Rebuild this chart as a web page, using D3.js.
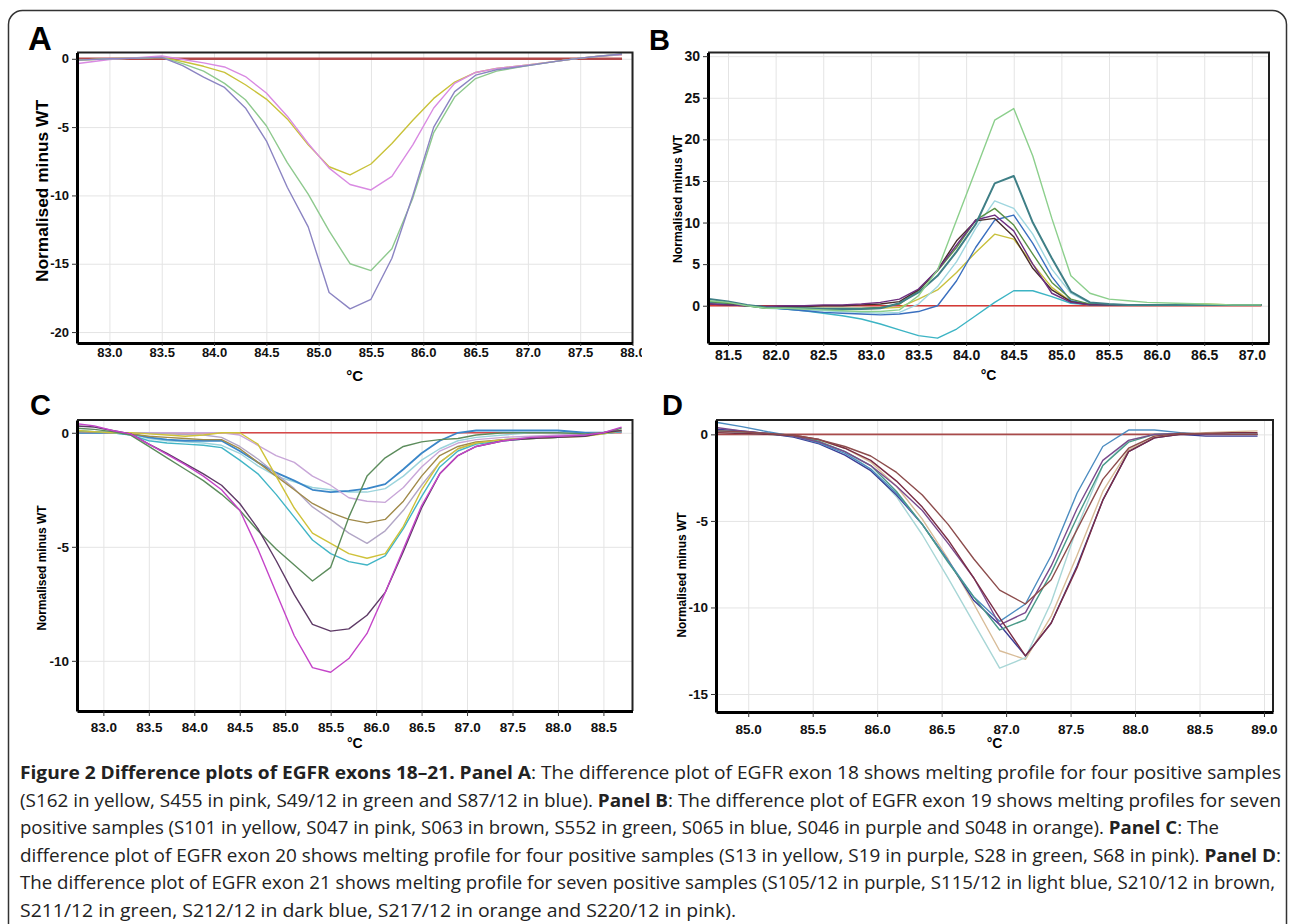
<!DOCTYPE html>
<html>
<head>
<meta charset="utf-8">
<script src="https://cdn.jsdelivr.net/npm/d3@7"></script>
<style>
  body { margin: 0; background: #fff; }
  svg { display: block; }
  .tick text { font-family: "Liberation Sans", Arial, sans-serif; font-weight: bold; fill: #111; }
  .cap { font-family: "Open Sans", "Noto Sans", sans-serif; fill: #222; }
</style>
</head>
<body>
<svg id="fig" width="1290" height="924"></svg>
<script>
// ---- panel A: exon 18 ----
var tempA = [82.7, 83.0, 83.3, 83.5, 83.7, 83.9, 84.1, 84.3, 84.5, 84.7, 84.9, 85.1, 85.3, 85.5, 85.7, 85.9, 86.1, 86.3, 86.5, 86.7, 87.0, 87.3, 87.5, 87.7, 87.9]
var aYellow = [-0.1, 0, 0.05, 0.1, -0.2, -0.55, -1.0, -1.9, -2.95, -4.4, -6.3, -7.9, -8.5, -7.7, -6.2, -4.5, -2.9, -1.7, -1.0, -0.7, -0.45, -0.15, 0.05, 0.2, 0.3]
var aPink = [-0.35, -0.05, 0.1, 0.2, -0.05, -0.3, -0.6, -1.3, -2.5, -4.2, -6.2, -8.0, -9.2, -9.6, -8.6, -6.3, -3.6, -1.8, -1.0, -0.7, -0.45, -0.15, 0.05, 0.2, 0.3]
var aGreen = [-0.1, 0, 0.05, 0.1, -0.35, -0.9, -1.8, -3.0, -4.9, -7.6, -9.9, -12.6, -15.0, -15.5, -13.9, -10.2, -5.4, -2.8, -1.45, -0.9, -0.5, -0.15, 0.05, 0.2, 0.35]
var aBlue = [-0.1, 0, 0.05, 0.1, -0.5, -1.35, -2.1, -3.6, -6.0, -9.4, -12.3, -17.1, -18.3, -17.6, -14.6, -10.0, -5.0, -2.4, -1.2, -0.8, -0.5, -0.15, 0.05, 0.2, 0.35]
var xTicksA = [83.0, 83.5, 84.0, 84.5, 85.0, 85.5, 86.0, 86.5, 87.0, 87.5, 88.0]
var yTicksA = [0, -5, -10, -15, -20]

// ---- panel B: exon 19 ----
var tempB = [81.3, 81.5, 81.7, 81.9, 82.1, 82.3, 82.5, 82.7, 82.9, 83.1, 83.3, 83.5, 83.7, 83.9, 84.1, 84.3, 84.5, 84.7, 84.9, 85.1, 85.3, 85.5, 85.7, 85.9, 86.2, 86.5, 86.8, 87.1]
var bLightGreen = [0.6, 0.4, 0.0, -0.3, -0.3, -0.4, -0.5, -0.6, -0.7, -0.7, -0.5, 1.2, 4.3, 10.3, 16.3, 22.3, 23.7, 18.0, 10.5, 3.6, 1.5, 0.8, 0.6, 0.4, 0.3, 0.2, 0.1, 0.1]
var bTeal = [0.8, 0.5, 0.1, -0.2, -0.3, -0.3, -0.4, -0.4, -0.4, -0.3, 0.3, 1.6, 3.6, 6.5, 9.8, 14.7, 15.6, 10.0, 5.7, 1.7, 0.4, 0.2, 0.1, 0.1, 0.1, 0.1, 0.1, 0.1]
var bLightCyan = [0.3, 0.2, 0.0, -0.3, -0.4, -0.5, -0.6, -0.7, -0.8, -0.9, -0.8, 0.2, 2.3, 5.3, 9.3, 12.6, 11.7, 8.6, 4.4, 1.5, 0.3, 0.1, 0.1, 0.1, 0.1, 0.1, 0.1, 0.1]
var bGreen = [0.5, 0.3, 0.0, -0.3, -0.3, -0.3, -0.3, -0.3, -0.3, -0.2, 0.2, 1.8, 4.2, 7.0, 10.3, 11.7, 9.7, 6.2, 2.8, 0.8, 0.2, 0.1, 0.1, 0.1, 0.1, 0.1, 0.1, 0.1]
var bPurple = [0.2, 0.1, 0.0, -0.1, 0.0, 0.0, 0.1, 0.1, 0.2, 0.4, 0.8, 2.0, 4.3, 7.3, 10.3, 10.9, 9.0, 5.0, 1.5, 0.4, 0.1, 0.1, 0.1, 0.1, 0.1, 0.1, 0.1, 0.1]
var bBrown = [0.2, 0.1, 0.0, -0.1, -0.1, -0.1, 0.0, 0.0, 0.1, 0.2, 0.5, 1.9, 4.3, 7.8, 10.2, 10.5, 8.3, 4.5, 1.9, 0.5, 0.1, 0.1, 0.1, 0.1, 0.1, 0.1, 0.1, 0.1]
var bBlue = [0.4, 0.3, 0.0, -0.2, -0.4, -0.6, -0.8, -0.9, -1.0, -1.1, -1.0, -0.7, 0.0, 3.0, 7.0, 10.3, 10.9, 7.5, 3.5, 0.6, 0.2, 0.1, 0.1, 0.1, 0.1, 0.1, 0.1, 0.1]
var bYellow = [0.3, 0.2, 0.0, -0.2, -0.3, -0.3, -0.4, -0.4, -0.4, -0.3, -0.2, 0.8, 1.9, 4.0, 6.4, 8.6, 8.0, 5.0, 2.2, 0.5, 0.1, 0.1, 0.1, 0.1, 0.1, 0.2, 0.1, 0.1]
var bCyan = [0.5, 0.3, 0.0, -0.2, -0.4, -0.6, -0.9, -1.2, -1.6, -2.2, -2.9, -3.6, -3.9, -2.8, -1.2, 0.4, 1.8, 1.8, 1.1, 0.3, 0.1, 0.1, 0.1, 0.1, 0.1, 0.1, 0.1, 0.1]
var xTicksB = [81.5, 82.0, 82.5, 83.0, 83.5, 84.0, 84.5, 85.0, 85.5, 86.0, 86.5, 87.0]
var yTicksB = [0, 5, 10, 15, 20, 25, 30]

// ---- panel C: exon 20 ----
var tempC = [82.7, 82.9, 83.1, 83.3, 83.5, 83.7, 83.9, 84.1, 84.3, 84.5, 84.7, 84.9, 85.1, 85.3, 85.5, 85.7, 85.9, 86.1, 86.3, 86.5, 86.7, 86.9, 87.1, 87.4, 87.7, 88.0, 88.3, 88.5, 88.7]
var cMagenta = [0.4, 0.3, 0.1, -0.05, -0.5, -0.95, -1.4, -1.9, -2.5, -3.4, -5.1, -7.0, -8.9, -10.3, -10.5, -9.9, -8.8, -7.0, -5.1, -3.2, -1.8, -1.0, -0.6, -0.35, -0.2, -0.15, -0.1, 0.0, 0.25]
var cPurple = [0.3, 0.25, 0.1, -0.05, -0.5, -0.9, -1.35, -1.8, -2.3, -3.1, -4.2, -5.6, -7.1, -8.4, -8.7, -8.6, -8.0, -7.0, -5.2, -3.3, -1.8, -1.0, -0.6, -0.35, -0.25, -0.2, -0.15, 0.0, 0.1]
var cGreen = [0.2, 0.15, 0.05, -0.1, -0.6, -1.1, -1.6, -2.1, -2.7, -3.4, -4.3, -5.1, -5.8, -6.5, -5.9, -3.7, -1.9, -1.1, -0.6, -0.4, -0.3, -0.25, -0.1, 0.0, 0.0, 0.0, -0.05, 0.0, 0.2]
var cYellow = [0.1, 0.05, 0.0, 0.0, -0.05, -0.1, -0.15, -0.1, 0.0, 0.0, -0.5, -1.9, -3.3, -4.4, -4.85, -5.3, -5.5, -5.3, -4.1, -2.5, -1.3, -0.7, -0.45, -0.3, -0.25, -0.2, -0.15, -0.05, 0.1]
var cCyan = [0.1, 0.05, 0.0, -0.1, -0.35, -0.45, -0.5, -0.55, -0.65, -1.2, -1.8, -2.7, -3.7, -4.7, -5.3, -5.65, -5.8, -5.4, -4.2, -2.8, -1.5, -0.8, -0.5, -0.35, -0.25, -0.2, -0.1, -0.05, 0.05]
var cTan = [0.05, 0.03, 0.0, -0.05, -0.15, -0.2, -0.25, -0.3, -0.3, -0.7, -1.3, -1.9, -2.5, -3.1, -3.5, -3.8, -3.95, -3.8, -3.0, -1.9, -1.0, -0.6, -0.4, -0.3, -0.25, -0.2, -0.1, 0.0, 0.1]
var cGreyPurple = [0.05, 0.03, 0.0, 0.0, -0.02, -0.05, -0.08, -0.1, -0.2, -0.6, -1.15, -1.8, -2.45, -3.25, -3.8, -4.4, -4.85, -4.3, -3.4, -2.3, -1.3, -0.7, -0.45, -0.3, -0.2, -0.15, -0.1, 0.0, 0.1]
var cLavender = [0.05, 0.03, 0.0, 0.0, 0.0, 0.0, 0.0, 0.0, 0.0, -0.1, -0.55, -1.0, -1.3, -1.9, -2.3, -2.85, -3.0, -3.05, -2.4, -1.5, -0.8, -0.45, -0.3, -0.2, -0.15, -0.1, -0.05, 0.0, 0.05]
var cBlue = [0.0, 0.0, 0.0, -0.05, -0.2, -0.3, -0.35, -0.35, -0.35, -0.8, -1.3, -1.75, -2.1, -2.5, -2.6, -2.55, -2.45, -2.25, -1.6, -0.9, -0.35, 0.0, 0.1, 0.1, 0.1, 0.1, 0.0, 0.0, 0.05]
var cLightCyan = [0.0, 0.0, 0.0, -0.05, -0.25, -0.35, -0.4, -0.45, -0.55, -0.9, -1.45, -1.9, -2.15, -2.4, -2.5, -2.6, -2.6, -2.45, -1.9, -1.2, -0.7, -0.35, -0.2, -0.1, 0.0, 0.0, 0.0, 0.0, 0.05]
var xTicksC = [83.0, 83.5, 84.0, 84.5, 85.0, 85.5, 86.0, 86.5, 87.0, 87.5, 88.0, 88.5]
var yTicksC = [0, -5, -10]

// ---- panel D: exon 21 ----
var tempD = [84.75, 84.95, 85.15, 85.35, 85.55, 85.75, 85.95, 86.15, 86.35, 86.55, 86.75, 86.95, 87.15, 87.35, 87.55, 87.75, 87.95, 88.15, 88.35, 88.55, 88.75, 88.95]
var dBrown = [0.2, 0.15, 0.05, -0.05, -0.3, -0.7, -1.25, -2.2, -3.5, -5.2, -7.2, -9.0, -9.8, -8.4, -5.5, -2.6, -0.8, -0.1, 0.05, 0.05, 0.0, 0.0]
var dMaroon = [0.1, 0.05, 0.0, -0.05, -0.3, -0.8, -1.5, -2.7, -4.2, -6.1, -8.3, -10.6, -12.8, -10.9, -7.7, -3.8, -1.0, -0.2, 0.0, 0.05, 0.1, 0.1]
var dPurple = [0.4, 0.2, 0.05, -0.1, -0.45, -1.0, -1.8, -3.0, -4.4, -6.3, -8.3, -11.0, -10.3, -7.6, -4.3, -1.5, -0.35, 0.0, 0.05, 0.0, 0.0, 0.0]
var dTeal = [0.2, 0.15, 0.05, -0.1, -0.4, -1.0, -1.8, -3.3, -5.2, -7.4, -9.4, -11.3, -10.7, -8.0, -4.8, -1.8, -0.45, 0.0, 0.05, 0.0, 0.0, 0.0]
var dNavy = [0.3, 0.2, 0.05, -0.15, -0.55, -1.2, -2.1, -3.5, -5.2, -7.3, -9.6, -11.0, -12.8, -10.9, -7.6, -3.8, -1.0, -0.2, 0.0, -0.1, -0.1, -0.1]
var dSteel = [0.7, 0.45, 0.15, -0.1, -0.5, -1.1, -2.0, -3.4, -5.2, -7.3, -9.4, -10.8, -9.8, -7.0, -3.4, -0.7, 0.25, 0.25, 0.1, 0.0, 0.0, 0.0]
var dLightCyan = [0.2, 0.1, 0.0, -0.1, -0.45, -1.0, -2.0, -3.6, -5.8, -8.3, -10.9, -13.5, -12.9, -9.7, -5.4, -1.8, -0.35, 0.0, 0.0, 0.0, 0.0, 0.0]
var dBeige = [0.1, 0.05, 0.0, -0.1, -0.35, -0.8, -1.6, -3.0, -4.9, -7.2, -9.8, -12.5, -13.0, -10.5, -7.0, -3.3, -0.9, -0.1, 0.0, 0.1, 0.15, 0.2]
var xTicksD = [85.0, 85.5, 86.0, 86.5, 87.0, 87.5, 88.0, 88.5, 89.0]
var yTicksD = [0, -5, -10, -15]

// caption, one entry per printed line: [text, bold]
var captionLines = [
  [['Figure 2 Difference plots of EGFR exons 18\u201321. Panel A', true], [': The difference plot of EGFR exon 18 shows melting profile for four positive samples', false]],
  [['(S162 in yellow, S455 in pink, S49/12 in green and S87/12 in blue). ', false], ['Panel B', true], [': The difference plot of EGFR exon 19 shows melting profiles for seven', false]],
  [['positive samples (S101 in yellow, S047 in pink, S063 in brown, S552 in green, S065 in blue, S046 in purple and S048 in orange). ', false], ['Panel C', true], [': The', false]],
  [['difference plot of EGFR exon 20 shows melting profile for four positive samples (S13 in yellow, S19 in purple, S28 in green, S68 in pink). ', false], ['Panel D', true], [':', false]],
  [['The difference plot of EGFR exon 21 shows melting profile for seven positive samples (S105/12 in purple, S115/12 in light blue, S210/12 in brown,', false]],
  [['S211/12 in green, S212/12 in dark blue, S217/12 in orange and S220/12 in pink).', false]]
]

var svg = d3.select('#fig')

// rounded outer frame (bottom edge falls outside the picture)
svg.append('rect')
  .attr('x', 8.5).attr('y', 10.5).attr('width', 1278).attr('height', 930).attr('rx', 14)
  .attr('fill', 'none').attr('stroke', '#333').attr('stroke-width', 1.5)

var panels = [
  {
    letter: 'A', letterPos: [28, 50], letterSize: 33,
    box: { x: 77, y: 52.5, w: 555.5, h: 290.5 },
    xDomain: [82.69, 88.0], yDomain: [-20.8, 0.46],
    xTicks: xTicksA, yTicks: yTicksA, tickFont: 13, xPad: 2, xTickSize: 3,
    temps: tempA, baseColor: '#b34a4c', baseWidth: 2.6,
    ylab: { x: 42, y: 191, len: 182, size: 16 }, xlab: { y: 381, size: 15 },
    clipRight: 642,
    series: [
      { v: aYellow, c: '#c9c23a' }, { v: aPink, c: '#d98ae2' },
      { v: aGreen, c: '#8ec98e' }, { v: aBlue, c: '#8b84c2' }
    ]
  },
  {
    letter: 'B', letterPos: [649, 50], letterSize: 29,
    box: { x: 708, y: 52.5, w: 561, h: 290.5 },
    xDomain: [81.29, 87.18], yDomain: [-4.48, 30.44],
    xTicks: xTicksB, yTicks: yTicksB, tickFont: 14, xPad: 4, xTickSize: 3,
    temps: tempB, baseColor: '#d63a36', baseWidth: 1.6,
    ylab: { x: 677, y: 199, len: 128, size: 13 }, xlab: { y: 380, size: 14 },
    series: [
      { v: bYellow, c: '#c8c03c' }, { v: bLightCyan, c: '#9fd6df' },
      { v: bCyan, c: '#3cb4c4' }, { v: bBlue, c: '#3a6fbf' },
      { v: bGreen, c: '#5a9146' }, { v: bBrown, c: '#4a2c2c' },
      { v: bPurple, c: '#6e2f80' }, { v: bTeal, c: '#3f7f86', w: 2 },
      { v: bLightGreen, c: '#8ccf8c' }
    ]
  },
  {
    letter: 'C', letterPos: [30, 415], letterSize: 29,
    box: { x: 77, y: 420, w: 555.5, h: 291 },
    xDomain: [82.71, 88.82], yDomain: [-12.2, 0.56],
    xTicks: xTicksC, yTicks: yTicksC, tickFont: 13.5, xPad: 6, xTickSize: 5,
    temps: tempC, baseColor: '#d84848', baseWidth: 1.6,
    ylab: { x: 41, y: 568, len: 125, size: 13 }, xlab: { y: 748, size: 14 },
    series: [
      { v: cLightCyan, c: '#9cd4dc' }, { v: cBlue, c: '#3a86c8', w: 1.8 },
      { v: cLavender, c: '#c8a6d8' }, { v: cGreyPurple, c: '#b2a6c6' },
      { v: cTan, c: '#a08a4a' }, { v: cCyan, c: '#42b5c6' },
      { v: cYellow, c: '#cfc23a' }, { v: cGreen, c: '#5c8c5c' },
      { v: cPurple, c: '#5e3a66' }, { v: cMagenta, c: '#c444c8' }
    ]
  },
  {
    letter: 'D', letterPos: [662, 415], letterSize: 29,
    box: { x: 716, y: 420, w: 557, h: 292 },
    xDomain: [84.75, 89.07], yDomain: [-16.04, 0.83],
    xTicks: xTicksD, yTicks: yTicksD, tickFont: 13.5, xPad: 7, xTickSize: 5,
    temps: tempD, baseColor: '#a84a4a', baseWidth: 1.6,
    ylab: { x: 681, y: 575, len: 125, size: 13 }, xlab: { y: 748, size: 14 },
    series: [
      { v: dBeige, c: '#d8bc98' }, { v: dLightCyan, c: '#a8d6d6' },
      { v: dNavy, c: '#3c3c94' }, { v: dSteel, c: '#4c8cc0' },
      { v: dTeal, c: '#4a9a88' }, { v: dPurple, c: '#7b4a8c' },
      { v: dMaroon, c: '#7a2d45' }, { v: dBrown, c: '#8c4c4c' }
    ]
  }
]

function drawPanel(p) {
  var g = svg.append('g')
  var b = p.box

  if (p.clipRight) {
    svg.append('clipPath').attr('id', 'panel' + p.letter)
      .append('rect').attr('x', 0).attr('y', 0).attr('width', p.clipRight).attr('height', 924)
    g.attr('clip-path', 'url(#panel' + p.letter + ')')
  }

  var x = d3.scaleLinear().domain(p.xDomain).range([b.x, b.x + b.w])
  var y = d3.scaleLinear().domain(p.yDomain).range([b.y + b.h, b.y])

  // light grid
  g.append('g')
    .attr('transform', 'translate(0,' + (b.y + b.h) + ')')
    .call(d3.axisBottom(x).tickValues(p.xTicks).tickSize(-b.h).tickFormat(''))
    .call(s => s.select('.domain').remove())
    .selectAll('line').attr('stroke', '#e4e4e4')
  g.append('g')
    .attr('transform', 'translate(' + b.x + ',0)')
    .call(d3.axisLeft(y).tickValues(p.yTicks).tickSize(-b.w).tickFormat(''))
    .call(s => s.select('.domain').remove())
    .selectAll('line').attr('stroke', '#e4e4e4')

  // curves
  svg.append('clipPath').attr('id', 'plot' + p.letter)
    .append('rect').attr('x', b.x).attr('y', b.y).attr('width', b.w).attr('height', b.h)
  var plot = g.append('g').attr('clip-path', 'url(#plot' + p.letter + ')')

  var line = d3.line()
    .x((d, i) => x(p.temps[i]))
    .y(d => y(d))

  plot.append('path')
    .datum(p.temps.map(() => 0))
    .attr('d', line)
    .attr('fill', 'none')
    .attr('stroke', p.baseColor)
    .attr('stroke-width', p.baseWidth)

  p.series.forEach(function(s) {
    plot.append('path')
      .datum(s.v)
      .attr('d', line)
      .attr('fill', 'none')
      .attr('stroke', s.c)
      .attr('stroke-width', s.w || 1.4)
      .attr('stroke-linejoin', 'round')
  })

  // frame top/right
  g.append('path')
    .attr('d', 'M' + b.x + ',' + b.y + 'H' + (b.x + b.w) + 'V' + (b.y + b.h))
    .attr('fill', 'none').attr('stroke', '#222').attr('stroke-width', 2)

  // axes
  var xAxis = g.append('g')
    .attr('transform', 'translate(0,' + (b.y + b.h) + ')')
    .call(d3.axisBottom(x).tickValues(p.xTicks).tickSize(p.xTickSize).tickSizeOuter(0).tickPadding(p.xPad)
      .tickFormat(d => d.toFixed(1)))
  var yAxis = g.append('g')
    .attr('transform', 'translate(' + b.x + ',0)')
    .call(d3.axisLeft(y).tickValues(p.yTicks).tickSize(5).tickSizeOuter(0).tickPadding(3)
      .tickFormat(d => d.toString()))

  ;[xAxis, yAxis].forEach(function(a) {
    a.select('.domain').attr('stroke', '#000').attr('stroke-width', 3)
    a.selectAll('.tick line').attr('stroke', '#333')
    a.selectAll('.tick text').style('font-size', p.tickFont + 'px')
  })

  // labels
  g.append('text')
    .attr('x', p.letterPos[0]).attr('y', p.letterPos[1])
    .style('font-family', '"Liberation Sans", Arial, sans-serif')
    .style('font-weight', 'bold').style('font-size', p.letterSize + 'px')
    .text(p.letter)

  g.append('text')
    .attr('transform', 'translate(' + p.ylab.x + ',' + p.ylab.y + ') rotate(-90)')
    .attr('text-anchor', 'middle').attr('dy', '0.35em')
    .attr('textLength', p.ylab.len).attr('lengthAdjust', 'spacingAndGlyphs')
    .style('font-family', '"Liberation Sans", Arial, sans-serif')
    .style('font-weight', 'bold').style('font-size', p.ylab.size + 'px')
    .text('Normalised minus WT')

  g.append('text')
    .attr('x', b.x + b.w / 2).attr('y', p.xlab.y)
    .attr('text-anchor', 'middle')
    .style('font-family', '"Liberation Sans", Arial, sans-serif')
    .style('font-weight', 'bold').style('font-size', p.xlab.size + 'px')
    .text('\u00b0C')
}

panels.forEach(drawPanel)

// caption
var capWidths = [1261, 1261, 1199, 1261, 1255, 716]
var cap = svg.append('g')
captionLines.forEach(function(parts, i) {
  var t = cap.append('text')
    .attr('class', 'cap')
    .attr('x', 20)
    .attr('y', 779 + i * 27.6)
    .attr('textLength', capWidths[i])
    .attr('lengthAdjust', 'spacingAndGlyphs')
    .style('font-size', '17.5px')
  parts.forEach(function(part) {
    t.append('tspan')
      .style('font-weight', part[1] ? 'bold' : 'normal')
      .text(part[0])
  })
})
</script>
</body>
</html>
